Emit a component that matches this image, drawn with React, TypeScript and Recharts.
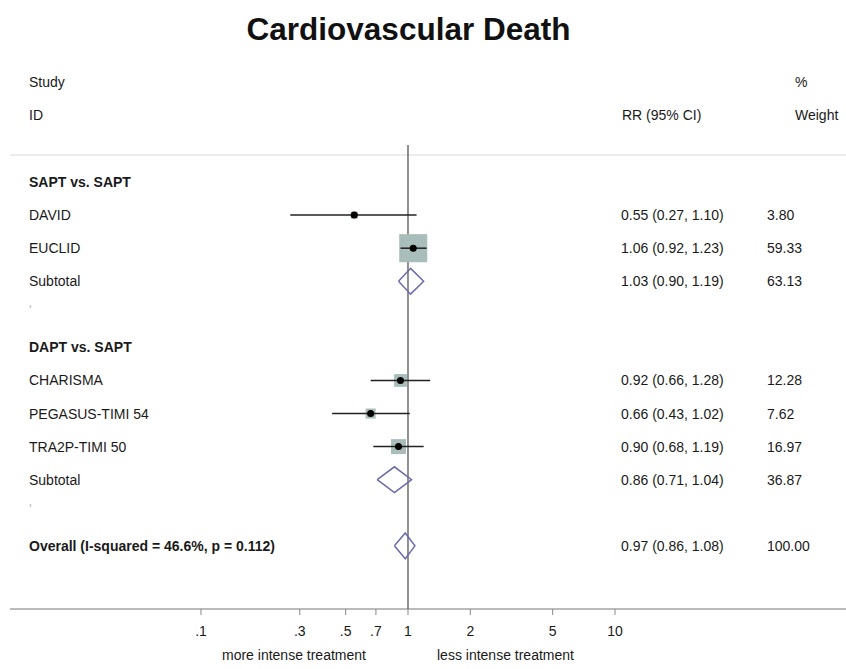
import React from 'react';
import { ComposedChart, Scatter, XAxis, YAxis, ReferenceLine } from 'recharts';

const FONT = '"Liberation Sans", Arial, Helvetica, sans-serif';

// rows are counted from the top of the plot, one per line of the table
const studyNames = ['DAVID', 'EUCLID', 'CHARISMA', 'PEGASUS-TIMI 54', 'TRA2P-TIMI 50'];
const studyRows = [1, 2, 6, 7, 8];
const studyRR = [0.55, 1.06, 0.92, 0.66, 0.9];
const studyLow = [0.27, 0.92, 0.66, 0.43, 0.68];
const studyHigh = [1.1, 1.23, 1.28, 1.02, 1.19];
const studyWeight = [3.8, 59.33, 12.28, 7.62, 16.97];

const pooledNames = ['Subtotal', 'Subtotal', 'Overall  (I-squared = 46.6%, p = 0.112)'];
const pooledRows = [3, 9, 11];
const pooledRR = [1.03, 0.86, 0.97];
const pooledLow = [0.9, 0.71, 0.86];
const pooledHigh = [1.19, 1.04, 1.08];
const pooledWeight = [63.13, 36.87, 100.0];
const pooledBold = [false, false, true];

const groupNames = ['SAPT vs. SAPT', 'DAPT vs. SAPT'];
const groupRows = [0, 5];
const blankRows = [4, 10];

const tickValues = [0.1, 0.3, 0.5, 0.7, 1, 2, 5, 10];
const tickLabels = ['.1', '.3', '.5', '.7', '1', '2', '5', '10'];

// visible extent of the log axis and of the row axis
const X_DOMAIN = [0.01195, 130.6];
const Y_DOMAIN = [-1.12, 12.91];

const DIAMOND_HALF = 0.39; // in rows
const BOX_SCALE = 3.64; // px per sqrt(weight)

const STUDY_X = 29;
const CI_X = 621;
const W_X = 767;

const fmt = (v: number) => v.toFixed(2);

const textRows = [
  ...groupNames.map((name, i) => ({ x: 1, y: groupRows[i], name, bold: true, ci: '', w: '' })),
  ...studyNames.map((name, i) => ({
    x: 1,
    y: studyRows[i],
    name,
    bold: false,
    ci: `${fmt(studyRR[i])} (${fmt(studyLow[i])}, ${fmt(studyHigh[i])})`,
    w: fmt(studyWeight[i]),
  })),
  ...pooledNames.map((name, i) => ({
    x: 1,
    y: pooledRows[i],
    name,
    bold: pooledBold[i],
    ci: `${fmt(pooledRR[i])} (${fmt(pooledLow[i])}, ${fmt(pooledHigh[i])})`,
    w: fmt(pooledWeight[i]),
  })),
  ...blankRows.map((r) => ({ x: 1, y: r, name: '.', bold: false, ci: '', w: '', blank: true })),
];

const studyPoints = studyNames.map((name, i) => ({ x: studyRR[i], y: studyRows[i], weight: studyWeight[i], name }));

const RowText = (props: any) => {
  const { cy, payload } = props;
  const common = { fontFamily: FONT, fontSize: 14, fill: '#1a1a1a', dominantBaseline: 'central' as const };
  if (payload.blank) {
    return (
      <text x={STUDY_X} y={cy - 4} {...common} fill="#bbb">
        '
      </text>
    );
  }
  return (
    <g>
      <text x={STUDY_X} y={cy} {...common} fontWeight={payload.bold ? 'bold' : 'normal'}>
        {payload.name}
      </text>
      {payload.ci && (
        <text x={CI_X} y={cy} {...common}>
          {payload.ci}
        </text>
      )}
      {payload.w && (
        <text x={W_X} y={cy} {...common}>
          {payload.w}
        </text>
      )}
    </g>
  );
};

const WeightBox = (props: any) => {
  const { cx, cy, payload } = props;
  const s = BOX_SCALE * Math.sqrt(payload.weight);
  return <rect x={cx - s / 2} y={cy - s / 2} width={s} height={s} fill="#a9beba" />;
};

const Dot = (props: any) => <circle cx={props.cx} cy={props.cy} r={3.5} fill="#000" />;

const NoShape = () => <g />;

const headerStyle: React.CSSProperties = {
  position: 'absolute',
  fontFamily: FONT,
  fontSize: 14,
  color: '#1a1a1a',
  lineHeight: '16px',
  whiteSpace: 'nowrap',
};

export default function App() {
  return (
    <div style={{ position: 'relative', width: 846, height: 669, background: '#fff' }}>
      <style>{'body{margin:0;}'}</style>
      <div
        style={{
          position: 'absolute',
          left: 0,
          width: 817,
          top: 11,
          textAlign: 'center',
          fontFamily: FONT,
          fontWeight: 'bold',
          fontSize: 31.5,
          color: '#111',
        }}
      >
        Cardiovascular Death
      </div>
      <div style={{ ...headerStyle, left: STUDY_X, top: 74 }}>Study</div>
      <div style={{ ...headerStyle, left: STUDY_X, top: 107 }}>ID</div>
      <div style={{ ...headerStyle, left: 622, top: 107 }}>RR (95% CI)</div>
      <div style={{ ...headerStyle, left: 795, top: 74 }}>%</div>
      <div style={{ ...headerStyle, left: 795, top: 107 }}>Weight</div>
      <div style={{ ...headerStyle, left: 222, top: 647 }}>more intense treatment</div>
      <div style={{ ...headerStyle, left: 437, top: 647 }}>less intense treatment</div>

      <ComposedChart width={846} height={669} margin={{ top: 145, right: 0, bottom: 0, left: 10 }}>
        <XAxis
          type="number"
          dataKey="x"
          scale="log"
          domain={X_DOMAIN}
          allowDataOverflow
          ticks={tickValues}
          interval={0}
          tickFormatter={(v: number) => tickLabels[tickValues.indexOf(v)]}
          height={60}
          stroke="#777"
          tickLine={{ stroke: '#888' }}
          tickSize={6}
          tickMargin={11}
          tick={{ fill: '#1a1a1a', fontSize: 14, fontFamily: FONT }}
        />
        <YAxis type="number" dataKey="y" domain={Y_DOMAIN} reversed hide allowDataOverflow />
        <ReferenceLine y={-0.82} stroke="#ececec" strokeWidth={2} />
        <ReferenceLine x={1} stroke="#555" strokeWidth={1.3} />
        <Scatter data={studyPoints} shape={WeightBox} isAnimationActive={false} />
        {studyNames.map((name, i) => (
          <Scatter
            key={name}
            data={[
              { x: studyLow[i], y: studyRows[i] },
              { x: studyHigh[i], y: studyRows[i] },
            ]}
            line={{ stroke: '#222', strokeWidth: 1.5 }}
            shape={NoShape}
            isAnimationActive={false}
          />
        ))}
        <Scatter data={studyPoints} shape={Dot} isAnimationActive={false} />
        {pooledNames.map((name, i) => (
          <Scatter
            key={'d' + i}
            data={[
              { x: pooledLow[i], y: pooledRows[i] },
              { x: pooledRR[i], y: pooledRows[i] - DIAMOND_HALF },
              { x: pooledHigh[i], y: pooledRows[i] },
              { x: pooledRR[i], y: pooledRows[i] + DIAMOND_HALF },
              { x: pooledLow[i], y: pooledRows[i] },
            ]}
            line={{ stroke: '#6a6aae', strokeWidth: 1.5 }}
            shape={NoShape}
            isAnimationActive={false}
          />
        ))}
        <Scatter data={textRows} shape={RowText} isAnimationActive={false} />
      </ComposedChart>
    </div>
  );
}
